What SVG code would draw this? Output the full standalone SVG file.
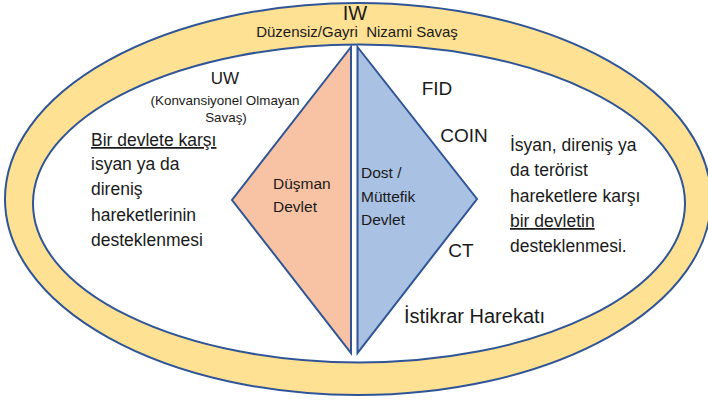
<svg xmlns="http://www.w3.org/2000/svg" width="708" height="400" viewBox="0 0 708 400">
  <style>
    .edge { stroke: #2F5597; stroke-width: 2; stroke-linejoin: miter; }
    text { font-family: "Liberation Sans", Arial, sans-serif; fill: #1a1a1a; }
    .mid { text-anchor: middle; }
    .body { font-size: 17.5px; }
    .lbl { font-size: 19px; }
    .state { font-size: 15.5px; }
    .ul { text-decoration: underline; }
  </style>
  <rect width="708" height="400" fill="#ffffff"/>
  <g id="iw">
    <ellipse cx="358" cy="199" rx="353" ry="196" fill="#FFE194" class="edge"/>
    <ellipse cx="359" cy="203.5" rx="326" ry="159" fill="#ffffff" class="edge"/>
    <text class="mid" x="355" y="20" font-size="20">IW</text>
    <text class="mid" x="357" y="37" font-size="15" style="white-space:pre">Düzensiz/Gayri  Nizami Savaş</text>
  </g>
  <g id="enemy-state">
    <polygon points="351,47 232,200 351,353" fill="#F8C3A4" class="edge"/>
    <text class="state" x="273" y="189">Düşman</text>
    <text class="state" x="273" y="212">Devlet</text>
  </g>
  <g id="friendly-state">
    <polygon points="357.5,47 477,199 357.5,353" fill="#A9C1E3" class="edge"/>
    <text class="state" x="361" y="178">Dost /</text>
    <text class="state" x="361" y="202">Müttefik</text>
    <text class="state" x="361" y="225">Devlet</text>
  </g>
  <g id="uw">
    <text class="mid" x="225" y="84" font-size="17">UW</text>
    <text class="mid" x="225" y="105" font-size="13.4">(Konvansiyonel Olmayan</text>
    <text class="mid" x="226" y="122" font-size="13.4">Savaş)</text>
    <text class="body" x="91" y="146"><tspan class="ul">Bir devlete karşı</tspan></text>
    <text class="body" x="91" y="170">isyan ya da</text>
    <text class="body" x="91" y="195">direniş</text>
    <text class="body" x="91" y="221">hareketlerinin</text>
    <text class="body" x="91" y="246">desteklenmesi</text>
  </g>
  <g id="fid">
    <text class="lbl mid" x="437" y="95">FID</text>
    <text class="lbl mid" x="464" y="142">COIN</text>
    <text class="lbl mid" x="461" y="257">CT</text>
    <text x="404" y="323" font-size="20">İstikrar Harekatı</text>
    <text class="body" x="510" y="151">İsyan, direniş ya</text>
    <text class="body" x="510" y="176">da terörist</text>
    <text class="body" x="510" y="202">hareketlere karşı</text>
    <text class="body" x="510" y="227"><tspan class="ul">bir devletin</tspan></text>
    <text class="body" x="510" y="252">desteklenmesi.</text>
  </g>
  <g id="connectors"/>
</svg>
